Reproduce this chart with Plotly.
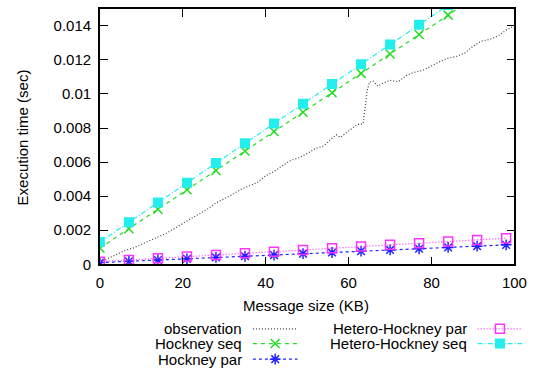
import plotly.graph_objects as go

# Message sizes (KB) at which the models are evaluated
model_kb = [0, 7, 14, 21, 28, 35, 42, 49, 56, 63, 70, 77, 84, 91, 98]

hockney_seq = [0.00095, 0.00209, 0.00323, 0.00437, 0.00551, 0.00665, 0.00779, 0.00893,
               0.01007, 0.01121, 0.01235, 0.01349, 0.01463, 0.01577, 0.01691]
hockney_par = [0.00010, 0.00017, 0.00025, 0.00032, 0.00040, 0.00047, 0.00054, 0.00062,
               0.00069, 0.00077, 0.00084, 0.00091, 0.00099, 0.00106, 0.00114]
hetero_par = [0.00015, 0.00025, 0.00035, 0.00045, 0.00054, 0.00064, 0.00074, 0.00084,
              0.00094, 0.00104, 0.00114, 0.00124, 0.00133, 0.00143, 0.00153]
hetero_seq = [0.00130, 0.00246, 0.00362, 0.00478, 0.00594, 0.00710, 0.00826, 0.00942,
              0.01058, 0.01174, 0.01290, 0.01406, 0.01522, 0.01638, 0.01754]

# Measured execution times
obs_kb = [0, 2, 4, 6, 8, 10, 12, 14, 16, 18, 20, 22, 24, 26, 28, 30, 32, 34, 36, 38,
          40, 42, 44, 46, 48, 50, 52, 54, 56, 57, 58, 60, 62, 63.5, 64, 64.5, 65, 66,
          67, 68, 70, 72, 74, 76, 78, 80, 82, 84, 86, 88, 90, 92, 94, 96, 98, 100]
obs_time = [0.00012, 0.00035, 0.00060, 0.00080, 0.00095, 0.00118, 0.00140, 0.00160,
            0.00182, 0.00210, 0.00240, 0.00268, 0.00298, 0.00325, 0.00360, 0.00385,
            0.00410, 0.00440, 0.00458, 0.00480, 0.00520, 0.00545, 0.00578, 0.00610,
            0.00625, 0.00650, 0.00680, 0.00695, 0.00740, 0.00760, 0.00745, 0.00780,
            0.00820, 0.00825, 0.00920, 0.01020, 0.01070, 0.01075, 0.01046, 0.01060,
            0.01080, 0.01072, 0.01110, 0.01128, 0.01140, 0.01165, 0.01190, 0.01210,
            0.01220, 0.01240, 0.01280, 0.01310, 0.01320, 0.01340, 0.01375, 0.01400]

y_ticks = [0, 0.002, 0.004, 0.006, 0.008, 0.010, 0.012, 0.014]
y_tick_text = ["0", "0.002", "0.004", "0.006", "0.008", "0.01", "0.012", "0.014"]
x_ticks = [0, 20, 40, 60, 80, 100]

W, H = 541, 376
FONT = "Liberation Sans, Arial, Helvetica, sans-serif"
FS = 15

series = [
    dict(name="observation", x=obs_kb, y=obs_time, color="#404040",
         dash="1px,2px", symbol=None),
    dict(name="Hockney seq", x=model_kb, y=hockney_seq, color="#22dd22",
         dash="4px,4px", symbol="x-thin-open"),
    dict(name="Hockney par", x=model_kb, y=hockney_par, color="#2222ff",
         dash="3px,3px", symbol="asterisk-open"),
    dict(name="Hetero-Hockney par", x=model_kb, y=hetero_par, color="#ff33ff",
         dash="1px,2px", symbol="square-open"),
    dict(name="Hetero-Hockney seq", x=model_kb, y=hetero_seq, color="#22eeee",
         dash="5px,2px,1px,2px", symbol="square"),
]


def marker_style(s):
    filled = s["symbol"] == "square"
    return dict(symbol=s["symbol"], size=10 if filled else 9, color=s["color"],
                line=dict(color=s["color"], width=0 if filled else 1.5))


def px(x):
    return x / W


def py(y):
    return 1 - y / H


fig = go.Figure()

for s in series:
    fig.add_trace(go.Scatter(
        x=s["x"], y=s["y"],
        mode="lines" if s["symbol"] is None else "lines+markers",
        name=s["name"],
        line=dict(color=s["color"], width=1.2, dash=s["dash"]),
        marker=None if s["symbol"] is None else marker_style(s),
        showlegend=False, xaxis="x", yaxis="y"))

# Key entries below the plot, drawn on a full-page pixel-unit axis pair
key_slots = [(248, 336), (248, 351), (248, 367), (480, 336), (480, 351)]
for s, (tx, ty) in zip(series, key_slots):
    x0, x1 = tx + 9, tx + 55
    fig.add_trace(go.Scatter(
        x=[x0, x1], y=[ty, ty], mode="lines",
        line=dict(color=s["color"], width=1.2, dash=s["dash"]),
        showlegend=False, xaxis="x2", yaxis="y2", hoverinfo="skip"))
    if s["symbol"] is not None:
        fig.add_trace(go.Scatter(
            x=[(x0 + x1) / 2], y=[ty], mode="markers", marker=marker_style(s),
            showlegend=False, xaxis="x2", yaxis="y2", hoverinfo="skip"))
    fig.add_annotation(x=px(tx), y=py(ty), xref="paper", yref="paper",
                       text=s["name"], showarrow=False,
                       xanchor="right", yanchor="middle",
                       font=dict(family=FONT, size=FS, color="black"))

# Axis titles
fig.add_annotation(x=px(312), y=py(312), xref="paper", yref="paper",
                   text="Message size (KB)", showarrow=False,
                   xanchor="center", yanchor="middle",
                   font=dict(family=FONT, size=FS, color="black"))
fig.add_annotation(x=px(19), y=py(140), xref="paper", yref="paper",
                   text="Execution time (sec)", showarrow=False, textangle=-90,
                   xanchor="center", yanchor="middle",
                   font=dict(family=FONT, size=FS, color="black"))

plot_l, plot_r, plot_t, plot_b = 99, 527, 9, 270

axis_common = dict(
    showgrid=False, zeroline=False, showline=True, linecolor="black",
    linewidth=1.5, mirror="ticks", ticks="inside", ticklen=8, tickwidth=1,
    tickcolor="black", tickfont=dict(family=FONT, size=FS, color="black"),
)

fig.update_layout(
    width=W, height=H,
    margin=dict(l=0, r=0, t=0, b=0),
    paper_bgcolor="white", plot_bgcolor="rgba(0,0,0,0)",
    xaxis=dict(domain=[px(plot_l), px(plot_r)], range=[0, 100],
               tickvals=x_ticks, anchor="y", ticklabelstandoff=4, **axis_common),
    yaxis=dict(domain=[py(plot_b), py(plot_t)], range=[0, 0.015],
               tickvals=y_ticks, ticktext=y_tick_text, anchor="x",
               ticklabelstandoff=4, **axis_common),
    xaxis2=dict(domain=[0, 1], range=[0, W], visible=False, anchor="y2"),
    yaxis2=dict(domain=[0, 1], range=[H, 0], visible=False, anchor="x2"),
    font=dict(family=FONT, size=FS, color="black"),
)

fig.write_html("out.html")
